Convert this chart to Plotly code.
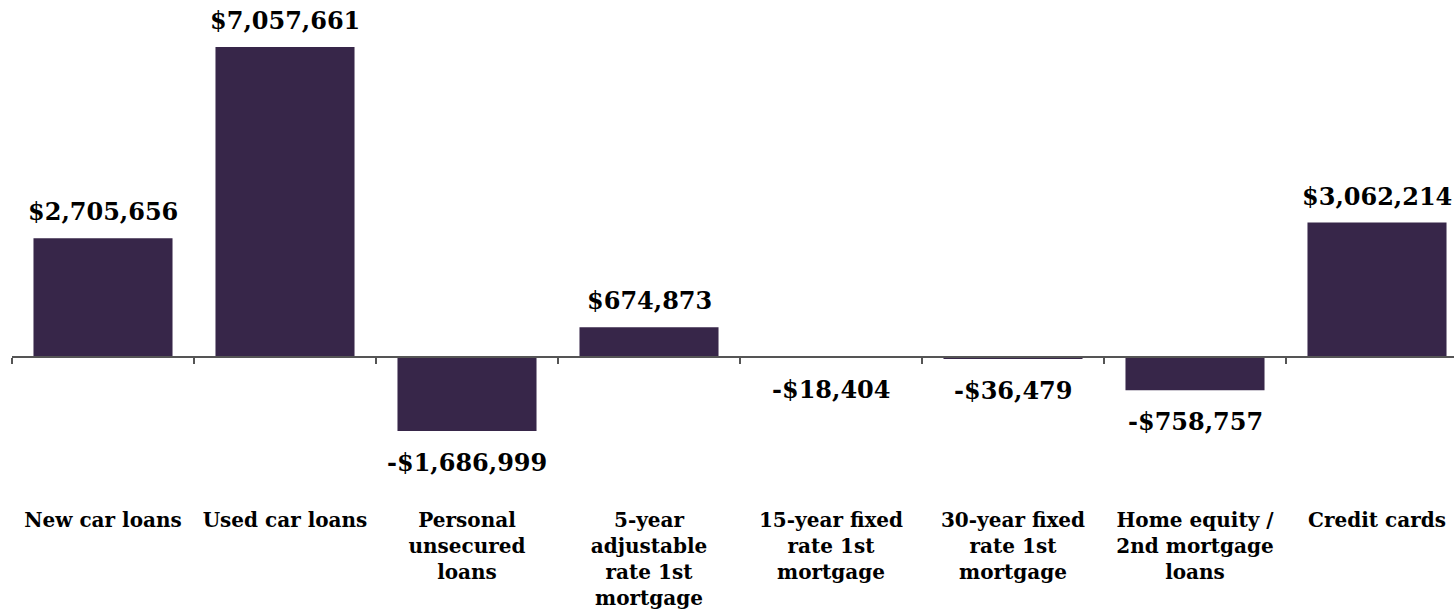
import plotly.graph_objects as go

categories = ["New car loans", "Used car loans", "Personal<br>unsecured<br>loans",
              "5-year<br>adjustable<br>rate 1st<br>mortgage", "15-year fixed<br>rate 1st<br>mortgage",
              "30-year fixed<br>rate 1st<br>mortgage", "Home equity /<br>2nd mortgage<br>loans",
              "Credit cards"]
values = [2705656, 7057661, -1686999, 674873, -18404, -36479, -758757, 3062214]

BAR = "#372649"
FONT = "DejaVu Serif"

def fmt(v):
    return ("-$" if v < 0 else "$") + f"{abs(v):,}"

W, H = 1454, 616
ml, mr, mt, mb = 12, 0, 0, 0
zero_px = 357
top_px = 47
scale = (zero_px - top_px) / max(values)  # px per unit
ymax = (zero_px - mt) / scale
ymin = -(H - mb - zero_px) / scale
unit_px = 182
xmax = -0.5 + (W - ml - mr) / unit_px

fig = go.Figure()
fig.add_trace(go.Bar(x=categories, y=values, width=0.764,
                     marker=dict(color=BAR, line=dict(width=0)),
                     hoverinfo="skip", showlegend=False))

for c, v in zip(categories, values):
    fig.add_annotation(x=c, y=v, text="<b>" + fmt(v) + "</b>", showarrow=False,
                       yanchor="bottom" if v >= 0 else "top",
                       yshift=10 if v >= 0 else -15,
                       font=dict(family=FONT, size=24, color="#000"))

pos = (0 - ymin) / (ymax - ymin)
fig.update_layout(
    width=W, height=H, margin=dict(l=ml, r=mr, t=mt, b=mb),
    paper_bgcolor="white", plot_bgcolor="white",
    bargap=0.2,
    xaxis=dict(type="category", range=[-0.5, xmax], anchor="free", position=pos,
               showline=True, linecolor="#555", linewidth=1.5,
               ticks="outside", tickson="boundaries", ticklen=6, tickcolor="#555", tickwidth=1.5,
               ticklabelstandoff=145, showgrid=False, automargin=False, tickangle=0,
               tickfont=dict(family=FONT, size=20, color="#000", weight="bold")),
    yaxis=dict(range=[ymin, ymax], visible=False, showgrid=False, zeroline=False),
)
fig.write_html("out.html")
